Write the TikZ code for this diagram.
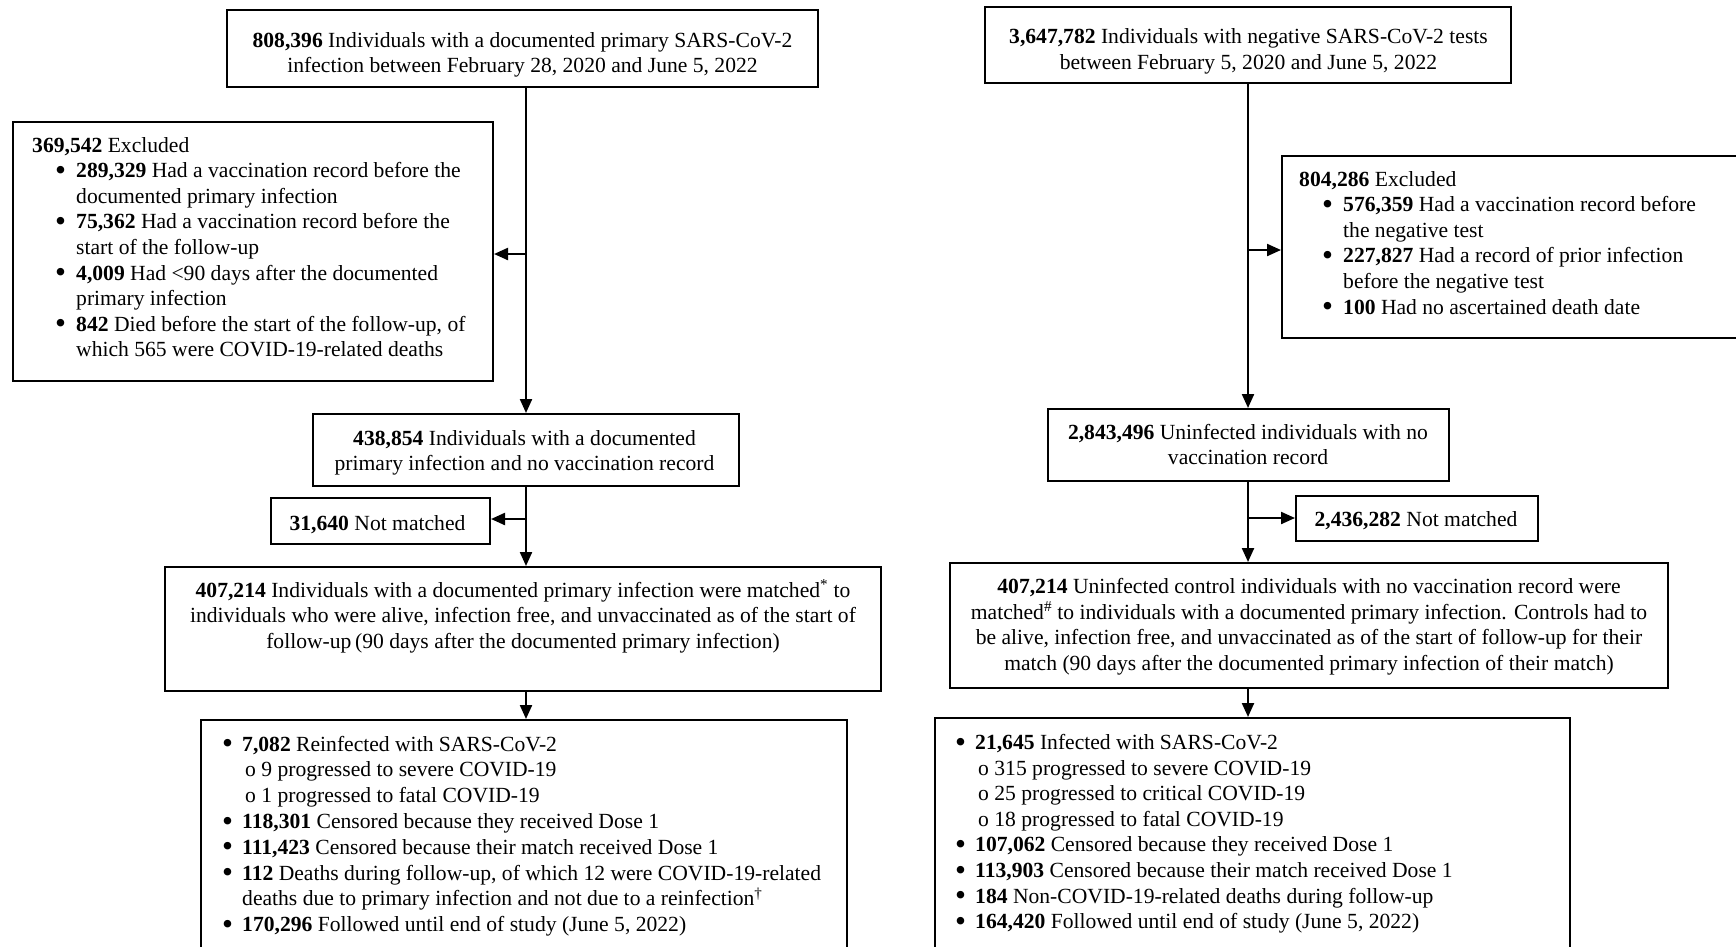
\documentclass[tikz,border=0pt]{standalone}
\usepackage{fontspec}
\setmainfont{Liberation Serif}
\usetikzlibrary{arrows.meta}
\newcommand\bdot{\raisebox{-2.6pt}{\fontsize{31.3}{25}\selectfont\textbullet}}
\newcommand\bl{\hspace*{23pt}\makebox[21pt][l]{\bdot}}
\newcommand\ct{\hspace*{44pt}}
\newcommand\bi{\makebox[20pt][l]{\bdot}}
\newcommand\ci{\hspace*{23pt}}
\tikzset{
  box/.style={draw, line width=2pt, inner sep=0pt},
  txt/.style={inner sep=0pt},
  arr/.style={line width=2.2pt, -{Triangle[length=14pt,width=12pt]}}
}
\begin{document}
\begin{tikzpicture}[x=1pt,y=-1pt,font=\fontsize{21.6}{25.6}\selectfont]
\clip (0,0) rectangle (1736,946);
\fill[white] (0,0) rectangle (1736,946);
% ---------- boxes ----------
\node[box, minimum width=591pt, minimum height=77pt] (A) at (522.5,48.5) {};
\node[box, minimum width=480pt, minimum height=259pt] (exL) at (253,251.5) {};
\node[box, minimum width=426pt, minimum height=72pt] (B) at (526,450) {};
\node[box, minimum width=219pt, minimum height=46pt] (nmL) at (380.5,521) {};
\node[box, minimum width=716pt, minimum height=124pt] (C) at (523,629) {};
\node[box, minimum width=646pt, minimum height=260pt] (D) at (524,850) {};
\node[box, minimum width=526pt, minimum height=76pt] (E) at (1248,45) {};
\node[box, minimum width=488pt, minimum height=182pt] (exR) at (1526,247) {};
\node[box, minimum width=401pt, minimum height=72pt] (F) at (1248.5,445) {};
\node[box, minimum width=242pt, minimum height=45pt] (nmR) at (1417,518.5) {};
\node[box, minimum width=718pt, minimum height=125pt] (G) at (1309,625.5) {};
\node[box, minimum width=635pt, minimum height=262pt] (H) at (1252.5,849) {};
% ---------- texts ----------
\node[txt, anchor=base] (tA) at (522.5,47) {\begin{minipage}[t]{590pt}\centering
\textbf{808,396} Individuals with a documented primary SARS-CoV-2\\
infection between February 28, 2020 and June 5, 2022\end{minipage}};
\node[txt, anchor=base west] (texL) at (32,152) {\begin{minipage}[t]{455pt}
\textbf{369,542} Excluded\\
\bl\textbf{289,329} Had a vaccination record before the\\
\ct documented primary infection\\
\bl\textbf{75,362} Had a vaccination record before the\\
\ct start of the follow-up\\
\bl\textbf{4,009} Had <90 days after the documented\\
\ct primary infection\\
\bl\textbf{842} Died before the start of the follow-up, of\\
\ct which 565 were COVID-19-related deaths\end{minipage}};
\node[txt, anchor=base] (tB) at (524.5,445) {\begin{minipage}[t]{420pt}\centering
\textbf{438,854} Individuals with a documented\\
primary infection and no vaccination record\end{minipage}};
\node[txt, anchor=base] (tnmL) at (377.5,530) {\textbf{31,640} Not matched};
\node[txt, anchor=base] (tC) at (523,597) {\begin{minipage}[t]{710pt}\centering
\textbf{407,214} Individuals with a documented primary infection were matched\textsuperscript{*} to\\
individuals who were alive, infection free, and unvaccinated as of the start of\\
follow-up\,(90 days after the documented primary infection)\end{minipage}};
\node[txt, anchor=base west] (tD) at (222,751) {\begin{minipage}[t]{600pt}\fontsize{21.6}{25.8}\selectfont
\bi\textbf{7,082} Reinfected with SARS-CoV-2\\
\ci o 9 progressed to severe COVID-19\\
\ci o 1 progressed to fatal COVID-19\\
\bi\textbf{118,301} Censored because they received Dose 1\\
\bi\textbf{111,423} Censored because their match received Dose 1\\
\bi\textbf{112} Deaths during follow-up, of which 12 were COVID-19-related\\
\hspace*{20pt}deaths due to primary infection and not due to a reinfection\textsuperscript{\dag}\\
\bi\textbf{170,296} Followed until end of study (June 5, 2022)\end{minipage}};
\node[txt, anchor=base] (tE) at (1248.5,43.5) {\begin{minipage}[t]{520pt}\centering
\textbf{3,647,782} Individuals with negative SARS-CoV-2 tests\\
between February 5, 2020 and June 5, 2022\end{minipage}};
\node[txt, anchor=base west] (texR) at (1299,186) {\begin{minipage}[t]{420pt}
\textbf{804,286} Excluded\\
\bl\textbf{576,359} Had a vaccination record before\\
\ct the negative test\\
\bl\textbf{227,827} Had a record of prior infection\\
\ct before the negative test\\
\bl\textbf{100} Had no ascertained death date\end{minipage}};
\node[txt, anchor=base] (tF) at (1248,439) {\begin{minipage}[t]{395pt}\centering
\textbf{2,843,496} Uninfected individuals with no\\
vaccination record\end{minipage}};
\node[txt, anchor=base] (tnmR) at (1416,526) {\textbf{2,436,282} Not matched};
\node[txt, anchor=base] (tG) at (1309,593.5) {\begin{minipage}[t]{712pt}\centering
\textbf{407,214} Uninfected control individuals with no vaccination record were\\
matched\textsuperscript{\#} to individuals with a documented primary infection. Controls had to\\
be alive, infection free, and unvaccinated as of the start of follow-up for their\\
match (90 days after the documented primary infection of their match)\end{minipage}};
\node[txt, anchor=base west] (tH) at (955,749.5) {\begin{minipage}[t]{590pt}
\bi\textbf{21,645} Infected with SARS-CoV-2\\
\ci o 315 progressed to severe COVID-19\\
\ci o 25 progressed to critical COVID-19\\
\ci o 18 progressed to fatal COVID-19\\
\bi\textbf{107,062} Censored because they received Dose 1\\
\bi\textbf{113,903} Censored because their match received Dose 1\\
\bi\textbf{184} Non-COVID-19-related deaths during follow-up\\
\bi\textbf{164,420} Followed until end of study (June 5, 2022)\end{minipage}};
% ---------- connectors ----------
\coordinate (jL1) at (526,254);
\coordinate (jL2) at (526,519);
\coordinate (jR1) at (1248,250);
\coordinate (jR2) at (1248,518);
\draw[arr] (B.north |- A.south) -- (B.north);
\draw[arr] (jL1) -- (jL1 -| exL.east);
\draw[arr] (B.south) -- (B.south |- C.north);
\draw[arr] (jL2) -- (jL2 -| nmL.east);
\draw[arr] (B.south |- C.south) -- (B.south |- D.north);
\draw[arr] (E.south) -- (E.south |- F.north);
\draw[arr] (jR1) -- (jR1 -| exR.west);
\draw[arr] (E.south |- F.south) -- (E.south |- G.north);
\draw[arr] (jR2) -- (jR2 -| nmR.west);
\draw[arr] (E.south |- G.south) -- (E.south |- H.north);
\end{tikzpicture}
\end{document}
